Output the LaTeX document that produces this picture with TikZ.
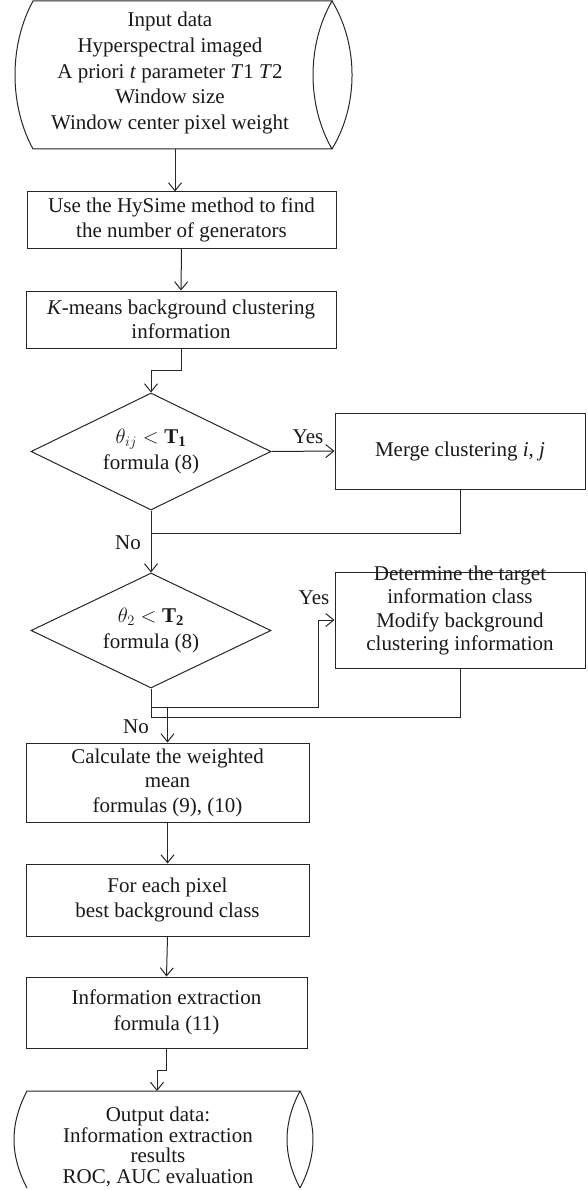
\documentclass[tikz,border=0pt]{standalone}
\usepackage{fontspec}
\setmainfont{Liberation Serif}
\usetikzlibrary{arrows.meta,shapes.geometric,calc}
\begin{document}
\begin{tikzpicture}[x=1pt,y=-1pt,
  ln/.style={line width=1pt, draw=black!85},
  arr/.style={ln, -{Straight Barb[length=8pt,width=13pt]}},
  txt/.style={font=\fontsize{21}{25.5}\selectfont, align=center, text=black!90, inner sep=0pt},
  box/.style={ln, rectangle, txt},
  dia/.style={ln, diamond, txt, aspect=2, minimum width=240pt, minimum height=117pt}]
\useasboundingbox (0,0) rectangle (587,1190);

% input cylinder
\draw[ln] (33,1) -- (332,1) .. controls (306.7,45) and (306.7,105) .. (332,149) -- (33,149) .. controls (9,105) and (9,45) .. (33,1) -- cycle;
\draw[ln] (332,1) .. controls (358.7,45) and (358.7,105) .. (332,149);
\node[txt, font=\fontsize{21}{25.8}\selectfont] (in) at (170,73) {Input data\\Hyperspectral imaged\\A priori \textit{t} parameter \textit{T}1 \textit{T}2\\Window size\\Window center pixel weight};
\coordinate (inb) at (175,149);

% output cylinder
\draw[ln] (27,1188) .. controls (9.7,1155) and (9.7,1124) .. (27,1091) -- (300,1091) .. controls (282.7,1124) and (282.7,1155) .. (300,1188);
\draw[ln] (300,1091) .. controls (317.3,1124) and (317.3,1155) .. (300,1188);
\node[txt, font=\fontsize{21}{20.5}\selectfont] (out) at (158,1147) {Output data:\\Information extraction\\results\\ROC, AUC evaluation};
\coordinate (outt) at (157,1091);

% boxes
\node[box, minimum width=309pt, minimum height=56pt] (b1) at (181.5,220) {Use the HySime method to find\\the number of generators};
\node[box, minimum width=310pt, minimum height=57pt, font=\fontsize{21}{23.5}\selectfont] (b2) at (181,319.5) {\textit{K}-means background clustering\\information};
\node[dia] (d1) at (151,451.5) {$\theta_{ij} < \mathbf{T_1}$\\formula (8)};
\node[box, minimum width=250pt, minimum height=76pt] (m) at (460,451) {Merge clustering \textit{i}, \textit{j}};
\node[dia, minimum height=115pt] (d2) at (151,630.5) {$\theta_2 < \mathbf{T_2}$\\formula (8)};
\node[box, minimum width=250pt, minimum height=96pt] (det) at (460,620) {};
\node[txt, font=\fontsize{21}{23.5}\selectfont] (dett) at (460,610.5) {Determine the target\\information class\\Modify background\\clustering information};
\node[box, minimum width=283pt, minimum height=79pt, font=\fontsize{21}{24.5}\selectfont] (calc) at (167.5,782.5) {Calculate the weighted\\mean\\formulas (9), (10)};
\node[box, minimum width=283pt, minimum height=72pt] (each) at (167.5,900) {For each pixel\\best background class};
\node[box, minimum width=281pt, minimum height=71pt] (ext) at (166.5,1012.5) {Information extraction\\formula (11)};

% labels
\node[txt] (yes1) at (308,437) {Yes};
\node[txt] (no1) at (128,543) {No};
\node[txt] (yes2) at (314,598) {Yes};
\node[txt] (no2) at (136,727) {No};

% coordinates
\coordinate (j1) at (151,533);
\coordinate (y2) at (318,707);
\coordinate (j2) at (151,717);

% connectors
\draw[arr] (inb) -- (inb |- b1.north);
\draw[arr] (b1.south) -- (b2.north);
\draw[arr] (b2.south) -- ++(0,22) -| (d1.north);
\draw[arr] (d1.east) -- (m.west);
\draw[ln] (m.south) |- (j1);
\draw[arr] (d1.south) -- (d2.north);
\draw[ln] (d2.south) -- (j2);
\draw[arr] (d2.south) |- (y2) |- (det.west);
\draw[ln] (det.south) |- (j2);
\draw[arr] (calc.north |- y2) -- (calc.north);
\draw[arr] (calc.south) -- (each.north);
\draw[arr] (each.south) -- (ext.north);
\draw[arr] (ext.south) -- ++(0,22) -| (outt);
\end{tikzpicture}
\end{document}
